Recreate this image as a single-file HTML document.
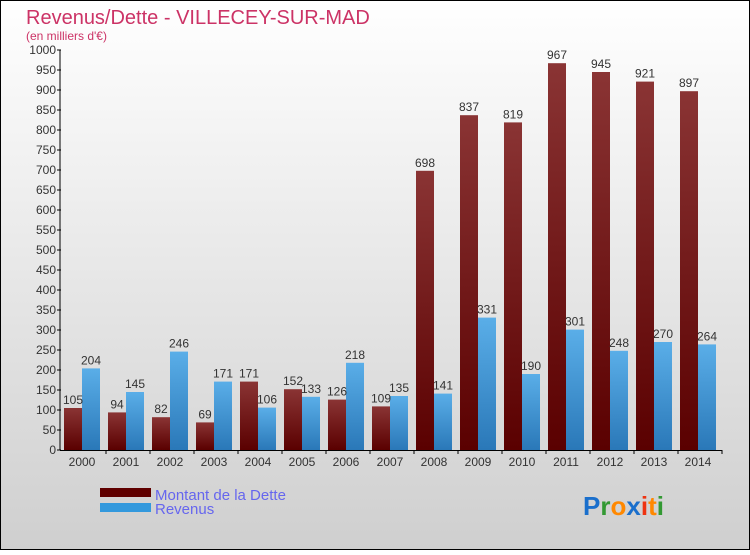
<!DOCTYPE html>
<html><head><meta charset="utf-8"><style>
body{margin:0;width:750px;height:550px;overflow:hidden}
</style></head><body>
<svg id="c" width="750" height="550" xmlns="http://www.w3.org/2000/svg" font-family="'Liberation Sans',sans-serif">
<defs>
<linearGradient id="bg" x1="0" y1="0" x2="0" y2="1"><stop offset="0" stop-color="#ffffff"/><stop offset="1" stop-color="#cfcfcf"/></linearGradient>
<linearGradient id="gd" x1="0" y1="0" x2="0" y2="1"><stop offset="0" stop-color="#8a3434"/><stop offset="1" stop-color="#5a0000"/></linearGradient>
<linearGradient id="gr" x1="0" y1="0" x2="0" y2="1"><stop offset="0" stop-color="#5aaee8"/><stop offset="1" stop-color="#2a78b8"/></linearGradient>
</defs>
<rect x="0.5" y="0.5" width="749" height="549" fill="url(#bg)" stroke="#000"/>
<text x="26" y="24" font-size="20" fill="#cc3366">Revenus/Dette - VILLECEY-SUR-MAD</text>
<text x="26" y="40" font-size="12" fill="#cc3366">(en milliers d'€)</text>
<g id="yaxis"></g><g id="bars"></g><g id="xaxis"></g>
<g>
<rect x="100" y="488" width="51" height="9" fill="#600000"/>
<rect x="100" y="503" width="51" height="9" fill="#3399dd"/>
<text x="155" y="500" font-size="15" fill="#6666ee">Montant de la Dette</text>
<text x="155" y="514" font-size="15" fill="#6666ee">Revenus</text>
</g>
<text x="583" y="515" font-size="26" font-weight="bold"><tspan fill="#1a6fcc">P</tspan><tspan fill="#339933">r</tspan><tspan fill="#ff8800">o</tspan><tspan fill="#1a6fcc">x</tspan><tspan fill="#ee3311">i</tspan><tspan fill="#ff8800">t</tspan><tspan fill="#339933">i</tspan></text>
</svg>
<script>
const years=["2000","2001","2002","2003","2004","2005","2006","2007","2008","2009","2010","2011","2012","2013","2014"];
const dette=[105,94,82,69,171,152,126,109,698,837,819,967,945,921,897];
const revenus=[204,145,246,171,106,133,218,135,141,331,190,301,248,270,264];
const yTicks=[0,50,100,150,200,250,300,350,400,450,500,550,600,650,700,750,800,850,900,950,1000];
const NS="http://www.w3.org/2000/svg";
const y0=450,yTop=50,yMax=1000,x0=62,gw=44;
const Y=v=>y0-(v/yMax)*(y0-yTop);
const X=i=>x0+i*gw;
function mk(t,a,p,txt){const e=document.createElementNS(NS,t);for(const k in a)e.setAttribute(k,a[k]);if(txt!==undefined)e.textContent=txt;p.appendChild(e);return e;}
const ya=document.getElementById('yaxis'),xa=document.getElementById('xaxis'),bs=document.getElementById('bars');
let l=mk('line',{x1:60,y1:yTop,x2:60,y2:y0,stroke:'#000'},ya);


yTicks.forEach(v=>{
 let t=mk('line',{x1:57,y1:Y(v),x2:61,y2:Y(v),stroke:'#000'},ya);
 
 
 let tx=mk('text',{x:56,y:Y(v)+4,'font-size':12,fill:'#333','text-anchor':'end'},ya,v);
 
 
});
let xl=mk('line',{x1:60,y1:y0+0.5,x2:722,y2:y0+0.5,stroke:'#000'},xa);


years.forEach((yr,i)=>{
 let bx=X(i)+2;
 let b1=mk('rect',{x:bx,y:Y(dette[i]),width:18,height:y0-Y(dette[i]),fill:'url(#gd)'},bs);
 
 
 let b2=mk('rect',{x:bx+18,y:Y(revenus[i]),width:18,height:y0-Y(revenus[i]),fill:'url(#gr)'},bs);
 
 
 let t1=mk('text',{x:bx+9,y:Y(dette[i])-4,'font-size':12,fill:'#333','text-anchor':'middle'},bs,dette[i]);
 
 
 let t2=mk('text',{x:bx+27,y:Y(revenus[i])-4,'font-size':12,fill:'#333','text-anchor':'middle'},bs,revenus[i]);
 
 
 let tk=mk('line',{x1:X(i)+gw,y1:y0,x2:X(i)+gw,y2:y0+4,stroke:'#000'},xa);
 
 
 let xt=mk('text',{x:bx+18,y:y0+16,'font-size':12,fill:'#333','text-anchor':'middle'},xa,yr);
 
 
});
</script>
</body></html>
